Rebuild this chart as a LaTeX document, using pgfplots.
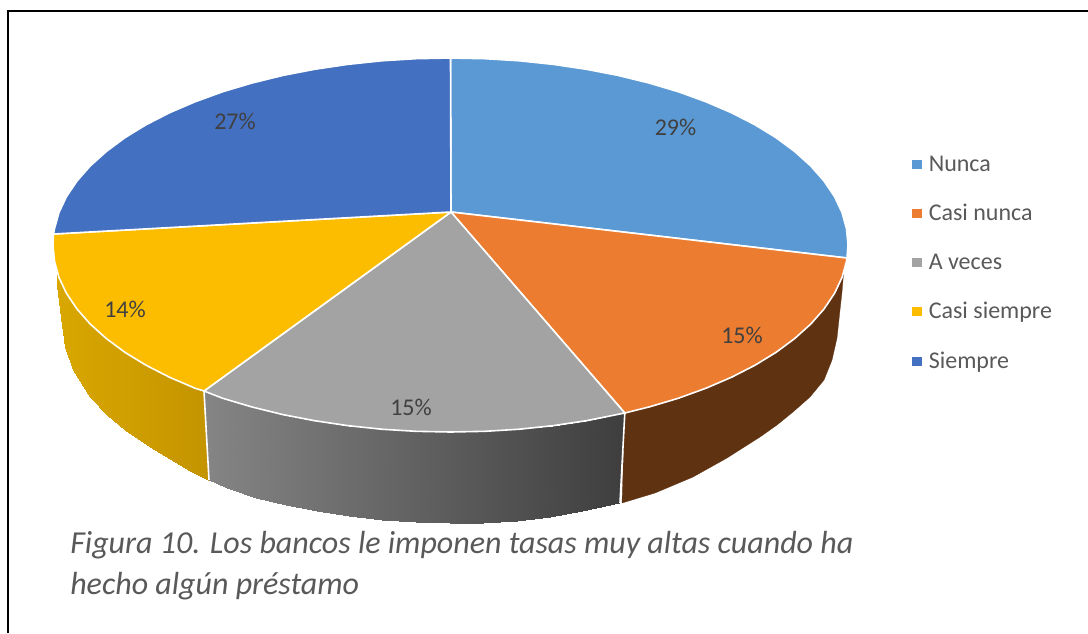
\documentclass[border=0pt]{standalone}
\usepackage{pgfplots}
\pgfplotsset{compat=1.18}
\usepackage{fontspec}
\setmainfont{Carlito}
\definecolor{cA}{HTML}{5A99D3}
\definecolor{cB}{HTML}{EB7C30}
\definecolor{cC}{HTML}{A3A3A3}
\definecolor{cD}{HTML}{FCBD00}
\definecolor{cE}{HTML}{4370C0}
\definecolor{brown3d}{HTML}{5F3212}
\definecolor{txt}{HTML}{404040}
\definecolor{legtxt}{HTML}{595959}
\pgfplotsset{
  colormap={grayside}{rgb255=(133,133,133) rgb255=(62,62,62)},
  colormap={goldside}{rgb255=(217,167,0) rgb255=(196,148,0)},
}
\begin{document}
\begin{tikzpicture}
\begin{axis}[
  scale only axis, width=816pt, height=474.75pt,
  xmin=0, xmax=1088, ymin=0, ymax=633, y dir=reverse,
  hide axis,
  legend style={draw=none, fill=none, at={(axis cs:912,153)}, anchor=north west,
    font=\fontsize{18}{21}\selectfont\color{legtxt}, row sep=19.3pt, inner sep=0pt},
  legend cell align=left,
  legend image code/.code={\fill[#1] (0.12cm,-3pt) rectangle (0.34cm,3pt); \path (13.4pt,0pt) circle (0pt);},
]
% side walls
\addplot[surf, shader=interp, mesh/rows=2, colormap name=goldside, point meta=x, point meta rel=per plot, forget plot] table {
x y
57 273
59 277.5
66.5 293.4
77 309
90.2 324
106.3 338.5
124.9 352.3
146 365.2
169.4 377.2
195 388.2
204 391
57 273
57 285
60 310
65 347
73 370
90 397
107 415
125 430
150 447
190 471
208.5 480
};
\addplot[surf, shader=interp, mesh/rows=2, colormap name=grayside, point meta=x, point meta rel=per plot, forget plot] table {
x y
204 391
222.5 398.2
251.7 406.9
282.5 414.5
314.6 420.7
347.6 425.6
381.5 429.2
415.8 431.3
450.5 432
485.2 431.3
519.5 429.2
553.4 425.6
586.4 420.7
624.8 413
209 480
227 488
255.5 498
285.5 505
317 511
349 516
382 520
415.5 522
449.5 523
483 522.5
516.5 520.5
549.5 516.5
581.5 511
619 503
};
\addplot[fill=brown3d, draw=brown3d, line width=0.2pt, forget plot] coordinates {
(624.8,413)(649.3,406.9)(678.5,398.2)(706,388.2)(731.6,377.2)(755,365.2)(776.1,352.3)(794.7,338.5)(810.8,324)(824,309)(834.5,293.4)(842,277.5)(843.5,274)
(842,292)(840,310)(837,338)(832,360)(824,380)(810,397)(793,412)(777,425)(760,437)(727,458)(693,477)(655,493)(622,503)
} -- cycle;
\addplot[white, line width=1.2pt, forget plot] coordinates {(204,391)(209,480)};
\addplot[white, line width=1.2pt, forget plot] coordinates {(624.8,413)(620,503)};
% top face
\addplot[fill=cA, draw=white, line width=1.2pt, line join=round, forget plot] coordinates {
(451,212)(450.5,58)(485.2,58.7)(519.5,60.8)(553.4,64.4)(586.4,69.3)(618.5,75.5)(649.3,83.1)(678.5,91.8)(706,101.8)(731.6,112.8)(755,124.8)(776.1,137.7)(794.7,151.5)(810.8,166)(824,181)(834.5,196.6)(842,212.5)(846.5,228.7)(848,245)(847,258)
} -- cycle;
\addplot[fill=cB, draw=white, line width=1.2pt, line join=round, forget plot] coordinates {
(451,212)(847,258)(846.5,261.3)(842,277.5)(834.5,293.4)(824,309)(810.8,324)(794.7,338.5)(776.1,352.3)(755,365.2)(731.6,377.2)(706,388.2)(678.5,398.2)(649.3,406.9)(624.8,413)
} -- cycle;
\addplot[fill=cC, draw=white, line width=1.2pt, line join=round, forget plot] coordinates {
(451,212)(624.8,413)(586.4,420.7)(553.4,425.6)(519.5,429.2)(485.2,431.3)(450.5,432)(415.8,431.3)(381.5,429.2)(347.6,425.6)(314.6,420.7)(282.5,414.5)(251.7,406.9)(222.5,398.2)(204,391)
} -- cycle;
\addplot[fill=cD, draw=white, line width=1.2pt, line join=round, forget plot] coordinates {
(451,212)(204,391)(195,388.2)(169.4,377.2)(146,365.2)(124.9,352.3)(106.3,338.5)(90.2,324)(77,309)(66.5,293.4)(59,277.5)(54.5,261.3)(53,245)(53.5,234)
} -- cycle;
\addplot[fill=cE, draw=white, line width=1.2pt, line join=round, forget plot] coordinates {
(451,212)(53.5,234)(54.5,228.7)(59,212.5)(66.5,196.6)(77,181)(90.2,166)(106.3,151.5)(124.9,137.7)(146,124.8)(169.4,112.8)(195,101.8)(222.5,91.8)(251.7,83.1)(282.5,75.5)(314.6,69.3)(347.6,64.4)(381.5,60.8)(415.8,58.7)(450.5,58)
} -- cycle;
% frame
\addplot[black, line width=1.5pt, forget plot] coordinates {(8,633)(8,10.5)(1088,10.5)};
% legend
\addlegendimage{cA}\addlegendentry{Nunca}
\addlegendimage{cB}\addlegendentry{Casi nunca}
\addlegendimage{cC}\addlegendentry{A veces}
\addlegendimage{cD}\addlegendentry{Casi siempre}
\addlegendimage{cE}\addlegendentry{Siempre}
% labels
\tikzset{pl/.style={font=\fontsize{18}{21}\selectfont, text=txt, inner sep=0pt}}
\node[pl] at (axis cs:675.5,127) {29\%};
\node[pl] at (axis cs:742,335) {15\%};
\node[pl] at (axis cs:411,407) {15\%};
\node[pl] at (axis cs:125,309) {14\%};
\node[pl] at (axis cs:235,121) {27\%};
\node[anchor=west, inner sep=0pt, text=legtxt, font=\fontsize{24}{30}\selectfont\itshape] at (axis cs:70,545) {Figura 10. Los bancos le imponen tasas muy altas cuando ha};
\node[anchor=west, inner sep=0pt, text=legtxt, font=\fontsize{24}{30}\selectfont\itshape] at (axis cs:70,586) {hecho algún préstamo};
\path (axis cs:0,0) rectangle (axis cs:1088,633);
\end{axis}
\end{tikzpicture}
\end{document}
